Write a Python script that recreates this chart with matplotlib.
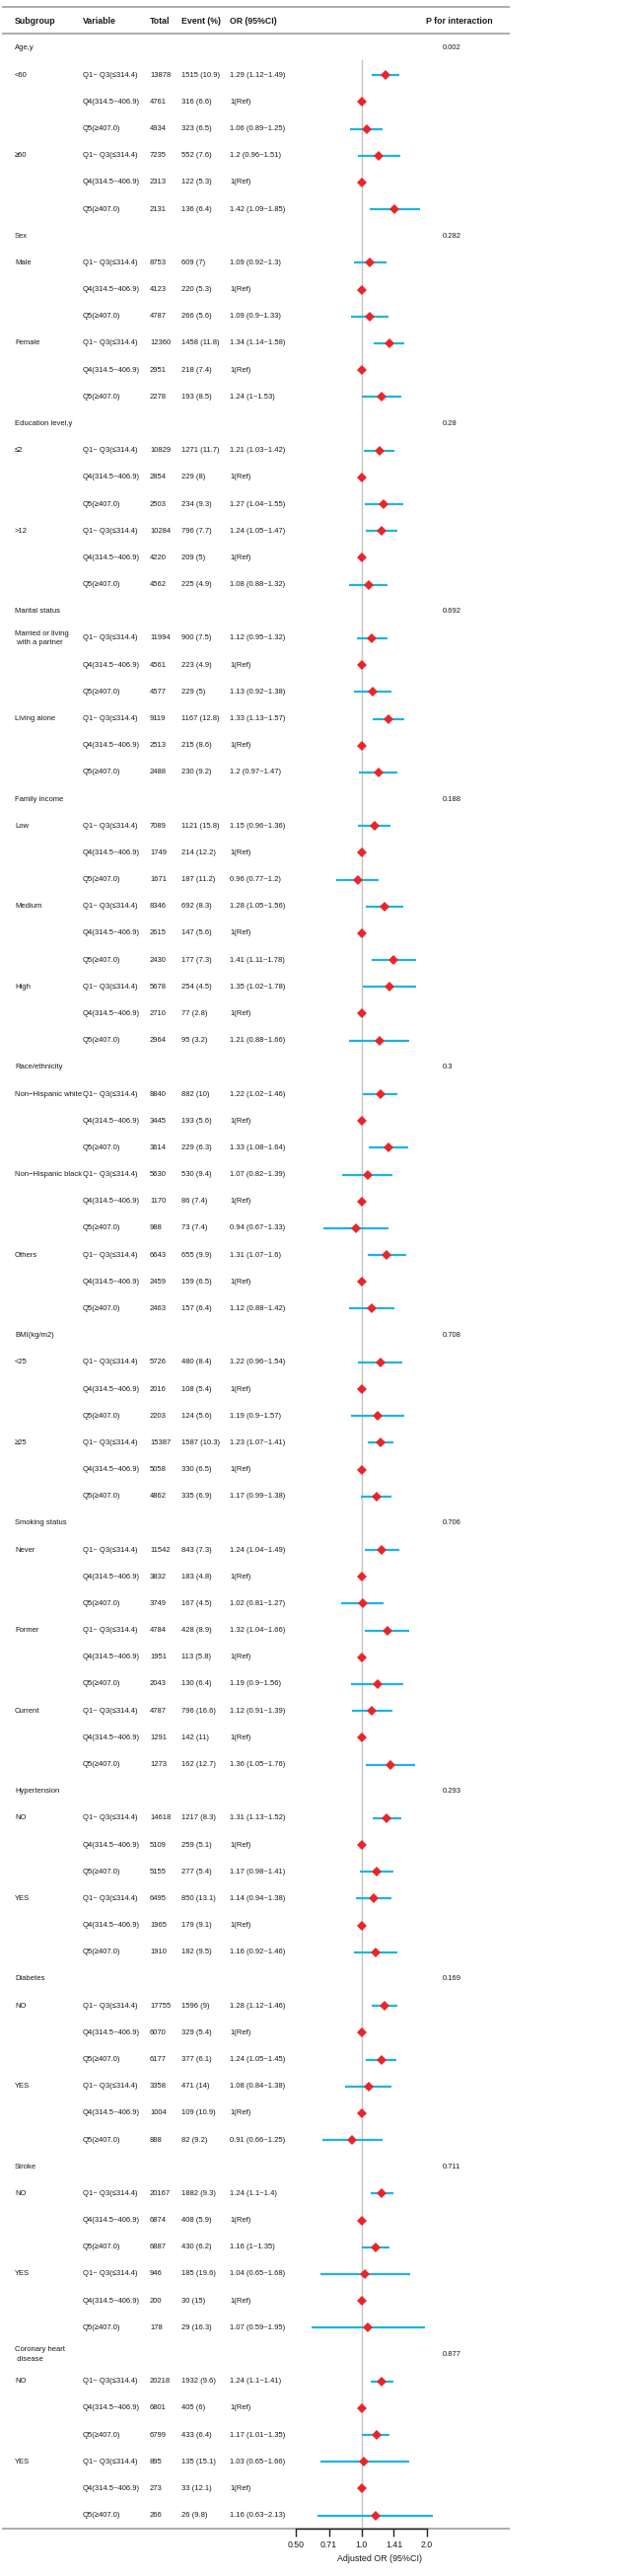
import numpy as np
import matplotlib
matplotlib.use("Agg")
import matplotlib.pyplot as plt

plt.rcParams['font.family'] = ['Liberation Sans', 'DejaVu Sans']

# ---- data ----
groups = ['Age,y', 'Sex', 'Education level,y', 'Marital status', 'Family income',
          'Race/ethnicity', 'BMI(kg/m2)', 'Smoking status', 'Hypertension',
          'Diabetes', 'Stroke', 'Coronary heart\n disease']
p_values = ['0.002', '0.282', '0.28', '0.692', '0.188', '0.3', '0.708', '0.706',
            '0.293', '0.169', '0.711', '0.877']
subgroups = [['<60', '\u226560'],
             ['Male', 'Female'],
             ['\u22642', '>12'],
             ['Married or living\n with a partner', 'Living alone'],
             ['Low', 'Medium', 'High'],
             ['Non\u2212Hispanic white', 'Non\u2212Hispanic black', 'Others'],
             ['<25', '\u226525'],
             ['Never', 'Former', 'Current'],
             ['NO', 'YES'],
             ['NO', 'YES'],
             ['NO', 'YES'],
             ['NO', 'YES']]
variables = ['Q1~ Q3(\u2264314.4)', 'Q4(314.5~406.9)', 'Q5(\u2265407.0)']

totals = [13878, 4761, 4934, 7235, 2313, 2131,
          8753, 4123, 4787, 12360, 2951, 2278,
          10829, 2854, 2503, 10284, 4220, 4562,
          11994, 4561, 4577, 9119, 2513, 2488,
          7089, 1749, 1671, 8346, 2615, 2430, 5678, 2710, 2964,
          8840, 3445, 3614, 5630, 1170, 988, 6643, 2459, 2463,
          5726, 2016, 2203, 15387, 5058, 4862,
          11542, 3832, 3749, 4784, 1951, 2043, 4787, 1291, 1273,
          14618, 5109, 5155, 6495, 1965, 1910,
          17755, 6070, 6177, 3358, 1004, 888,
          20167, 6874, 6887, 946, 200, 178,
          20218, 6801, 6799, 895, 273, 266]
events = [1515, 316, 323, 552, 122, 136,
          609, 220, 266, 1458, 218, 193,
          1271, 229, 234, 796, 209, 225,
          900, 223, 229, 1167, 215, 230,
          1121, 214, 187, 692, 147, 177, 254, 77, 95,
          882, 193, 229, 530, 86, 73, 655, 159, 157,
          480, 108, 124, 1587, 330, 335,
          843, 183, 167, 428, 113, 130, 796, 142, 162,
          1217, 259, 277, 850, 179, 182,
          1596, 329, 377, 471, 109, 82,
          1882, 408, 430, 185, 30, 29,
          1932, 405, 433, 135, 33, 26]
event_pct = [10.9, 6.6, 6.5, 7.6, 5.3, 6.4,
             7, 5.3, 5.6, 11.8, 7.4, 8.5,
             11.7, 8, 9.3, 7.7, 5, 4.9,
             7.5, 4.9, 5, 12.8, 8.6, 9.2,
             15.8, 12.2, 11.2, 8.3, 5.6, 7.3, 4.5, 2.8, 3.2,
             10, 5.6, 6.3, 9.4, 7.4, 7.4, 9.9, 6.5, 6.4,
             8.4, 5.4, 5.6, 10.3, 6.5, 6.9,
             7.3, 4.8, 4.5, 8.9, 5.8, 6.4, 16.6, 11, 12.7,
             8.3, 5.1, 5.4, 13.1, 9.1, 9.5,
             9, 5.4, 6.1, 14, 10.9, 9.2,
             9.3, 5.9, 6.2, 19.6, 15, 16.3,
             9.6, 6, 6.4, 15.1, 12.1, 9.8]
nan = np.nan
or_est = [1.29, 1, 1.06, 1.2, 1, 1.42,
          1.09, 1, 1.09, 1.34, 1, 1.24,
          1.21, 1, 1.27, 1.24, 1, 1.08,
          1.12, 1, 1.13, 1.33, 1, 1.2,
          1.15, 1, 0.96, 1.28, 1, 1.41, 1.35, 1, 1.21,
          1.22, 1, 1.33, 1.07, 1, 0.94, 1.31, 1, 1.12,
          1.22, 1, 1.19, 1.23, 1, 1.17,
          1.24, 1, 1.02, 1.32, 1, 1.19, 1.12, 1, 1.36,
          1.31, 1, 1.17, 1.14, 1, 1.16,
          1.28, 1, 1.24, 1.08, 1, 0.91,
          1.24, 1, 1.16, 1.04, 1, 1.07,
          1.24, 1, 1.17, 1.03, 1, 1.16]
or_lo = [1.12, nan, 0.89, 0.96, nan, 1.09,
         0.92, nan, 0.9, 1.14, nan, 1,
         1.03, nan, 1.04, 1.05, nan, 0.88,
         0.95, nan, 0.92, 1.13, nan, 0.97,
         0.96, nan, 0.77, 1.05, nan, 1.11, 1.02, nan, 0.88,
         1.02, nan, 1.08, 0.82, nan, 0.67, 1.07, nan, 0.88,
         0.96, nan, 0.9, 1.07, nan, 0.99,
         1.04, nan, 0.81, 1.04, nan, 0.9, 0.91, nan, 1.05,
         1.13, nan, 0.98, 0.94, nan, 0.92,
         1.12, nan, 1.05, 0.84, nan, 0.66,
         1.1, nan, 1, 0.65, nan, 0.59,
         1.1, nan, 1.01, 0.65, nan, 0.63]
or_hi = [1.49, nan, 1.25, 1.51, nan, 1.85,
         1.3, nan, 1.33, 1.58, nan, 1.53,
         1.42, nan, 1.55, 1.47, nan, 1.32,
         1.32, nan, 1.38, 1.57, nan, 1.47,
         1.36, nan, 1.2, 1.56, nan, 1.78, 1.78, nan, 1.66,
         1.46, nan, 1.64, 1.39, nan, 1.33, 1.6, nan, 1.42,
         1.54, nan, 1.57, 1.41, nan, 1.38,
         1.49, nan, 1.27, 1.66, nan, 1.56, 1.39, nan, 1.76,
         1.52, nan, 1.41, 1.38, nan, 1.46,
         1.46, nan, 1.45, 1.38, nan, 1.25,
         1.4, nan, 1.35, 1.68, nan, 1.95,
         1.41, nan, 1.35, 1.66, nan, 2.13]
xticks = [0.5, 0.71, 1.0, 1.41, 2.0]
xticklabels = ['0.50', '0.71', '1.0', '1.41', '2.0']

# ---- layout (pixels) ----
W, H = 642, 2611
ROW0, ROW_H = 49, 27.18
def px2row(p):
    return (p - ROW0) / ROW_H

x_sub, x_var, x_tot, x_evt, x_or, x_phead, x_p = 15, 84, 152, 184, 233, 432, 449
txt_col = '#1a1a1a'
line_col = '#a6a6a6'
ci_col = '#1cb4e4'
pt_col = '#e8262a'
fs = 5.5
fs_head = 6.3

fig = plt.figure(figsize=(W / 100, H / 100), dpi=100)
ax = fig.add_axes([0, 0, 1, 1])
ax.set_xlim(0, W)
ax.set_ylim(px2row(H), px2row(0))
ax.axis('off')

# header
hy = px2row(21)
for x, s in [(x_sub, 'Subgroup'), (x_var, 'Variable'), (x_tot, 'Total'),
             (x_evt, 'Event (%)'), (x_or, 'OR (95%CI)'), (x_phead, 'P for interaction')]:
    ax.text(x, hy, s, fontsize=fs_head, fontweight='bold', va='center', ha='left', color=txt_col)
for p in [7, 34, 2563]:
    ax.plot([2, 517], [px2row(p)] * 2, color=line_col, lw=1.3, solid_capstyle='butt')

# rows
row = 0
k = 0
row_idx = []
for g, name in enumerate(groups):
    ax.text(x_sub, row, name, fontsize=fs, va='center', ha='left', color=txt_col, linespacing=1.55)
    ax.text(x_p, row, p_values[g], fontsize=fs, va='center', ha='left', color=txt_col)
    row += 1
    for sg in subgroups[g]:
        ax.text(x_sub, row, sg, fontsize=fs, va='center', ha='left', color=txt_col, linespacing=1.55)
        for v in variables:
            ax.text(x_var, row, v, fontsize=fs, va='center', ha='left', color=txt_col)
            ax.text(x_tot, row, str(totals[k]), fontsize=fs, va='center', ha='left', color=txt_col)
            ax.text(x_evt, row, f'{events[k]} ({event_pct[k]:g})', fontsize=fs, va='center',
                    ha='left', color=txt_col)
            if np.isnan(or_lo[k]):
                ors = '1(Ref)'
            else:
                ors = f'{or_est[k]:g} ({or_lo[k]:g}~{or_hi[k]:g})'
            ax.text(x_or, row, ors, fontsize=fs, va='center', ha='left', color=txt_col)
            row_idx.append(row)
            row += 1
            k += 1

ax.text(385, px2row(2593), 'Adjusted OR (95%CI)', fontsize=6.4, va='center', ha='center', color=txt_col)

# forest panel
fl, fr, ft, fb = 300, 433, 61, 2563
axf = fig.add_axes([fl / W, 1 - fb / H, (fr - fl) / W, (fb - ft) / H])
axf.set_xscale('log', base=2)
axf.set_xlim(0.5, 2.0)
axf.set_ylim(px2row(fb), px2row(ft))
axf.patch.set_alpha(0)
axf.axvline(1, color='#c4c4c4', lw=1.0, zorder=1)
for i, r in enumerate(row_idx):
    if not np.isnan(or_lo[i]):
        axf.plot([or_lo[i], or_hi[i]], [r, r], color=ci_col, lw=1.6, clip_on=False,
                 solid_capstyle='butt', zorder=2)
    axf.plot(or_est[i], r, marker='D', color=pt_col, ms=5.2, mew=0, clip_on=False, zorder=3)
for s in ['top', 'left', 'right']:
    axf.spines[s].set_visible(False)
axf.spines['bottom'].set_color('#222222')
axf.spines['bottom'].set_linewidth(1.0)
axf.set_yticks([])
axf.set_xticks(xticks)
axf.set_xticklabels(xticklabels)
axf.minorticks_off()
axf.tick_params(axis='x', direction='out', length=6, width=1.0, color='#222222',
                labelsize=6.3, labelcolor=txt_col, pad=3)

fig.savefig('out.png', dpi=100)
